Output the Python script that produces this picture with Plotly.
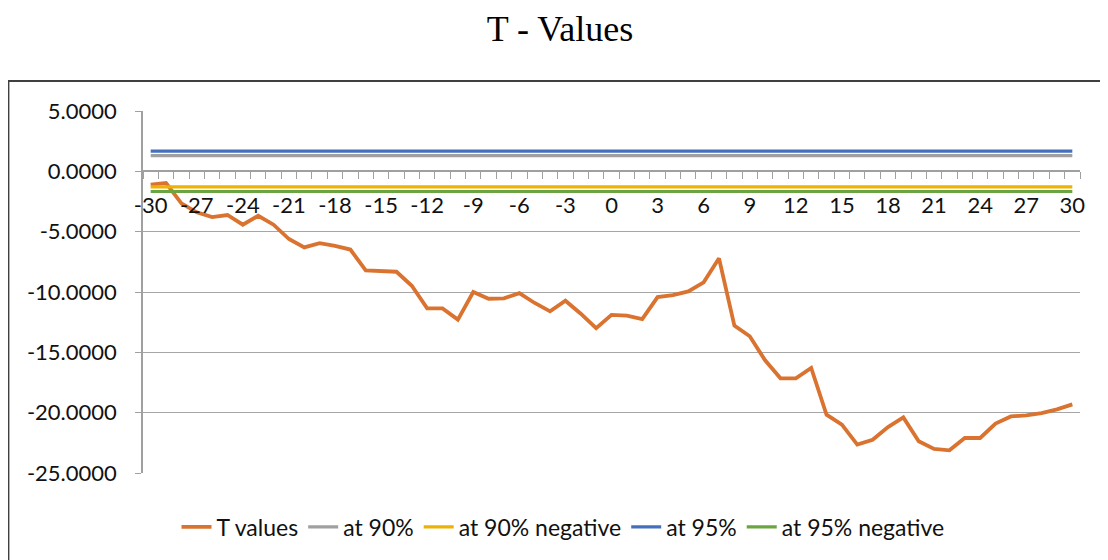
import plotly.graph_objects as go

lags = list(range(-30, 31))
t_values = [-1.11, -0.97, -2.65, -3.40, -3.79, -3.62, -4.42, -3.68, -4.42, -5.61,
            -6.30, -5.95, -6.18, -6.48, -8.21, -8.26, -8.32, -9.48, -11.36, -11.36,
            -12.29, -10.00, -10.56, -10.53, -10.09, -10.91, -11.60, -10.72, -11.80, -12.99,
            -11.90, -11.96, -12.24, -10.42, -10.25, -9.95, -9.20, -7.21, -12.79, -13.67,
            -15.66, -17.15, -17.15, -16.30, -20.17, -20.99, -22.65, -22.24, -21.19, -20.39,
            -22.37, -23.01, -23.12, -22.10, -22.10, -20.91, -20.31, -20.22, -20.03, -19.73,
            -19.31]
at_90 = 1.296
at_90_neg = -1.296
at_95 = 1.671
at_95_neg = -1.671
x_tick_vals = list(range(-30, 31, 3))
x_tick_text = [str(v) for v in x_tick_vals]
y_tick_vals = [-25, -20, -15, -10, -5, 0, 5]
y_tick_text = ["%.4f" % v for v in y_tick_vals]

series = [
    ("T values", t_values, "#D9732F", 3.8),
    ("at 90%", [at_90] * len(lags), "#A0A0A0", 3.2),
    ("at 90% negative", [at_90_neg] * len(lags), "#EDB204", 3.2),
    ("at 95%", [at_95] * len(lags), "#4570BE", 3.2),
    ("at 95% negative", [at_95_neg] * len(lags), "#6AA443", 3.2),
]

fig = go.Figure()
for name, ys, color, w in series:
    fig.add_trace(go.Scatter(x=lags, y=ys, mode="lines", name=name,
                             line=dict(color=color, width=w)))

font_family = "Lato"
W, H = 1108, 560
ML, MR, MT, MB = 135, 36, 103, 95
PW, PH = W - ML - MR, H - MT - MB


def px_x(p):
    return (p - ML) / PW


def px_y(p):
    return (H - MB - p) / PH


fig.update_layout(
    width=W, height=H,
    margin=dict(l=ML, r=MR, t=MT, b=MB),
    paper_bgcolor="white", plot_bgcolor="white",
    title=dict(text="T - Values", x=552 / W, xref="container", xanchor="center",
               y=1 - 20 / H, yanchor="middle",
               font=dict(family="Liberation Serif", size=36, color="#000000")),
    font=dict(family=font_family, size=22, color="#111111"),
    showlegend=True,
    legend=dict(orientation="h", x=px_x(555), xanchor="center", y=px_y(519), yanchor="middle",
                font=dict(family=font_family, size=23, color="#111111"),
                bgcolor="rgba(0,0,0,0)"),
    xaxis=dict(range=[-30.5, 30.5], tickmode="array", tickvals=x_tick_vals,
               ticktext=x_tick_text,
               ticks="", showgrid=False, zeroline=False,
               showline=True, linecolor="#A0A0A0", linewidth=1.5,
               anchor="free", position=25 / 30,
               ticklabelstandoff=15,
               minor=dict(tickmode="linear", tick0=-30.5, dtick=1, ticks="outside",
                          ticklen=7, tickcolor="#A0A0A0", tickwidth=1.2, showgrid=False),
               tickfont=dict(family=font_family, size=22, color="#111111")),
    yaxis=dict(range=[-25, 5], tickmode="array", tickvals=y_tick_vals,
               ticktext=y_tick_text,
               ticks="outside", ticklen=6, tickcolor="#A0A0A0",
               showgrid=True, gridcolor="#A6A6A6", gridwidth=1.3, zeroline=False,
               showline=True, linecolor="#A0A0A0", linewidth=1.5,
               ticklabelstandoff=14,
               tickfont=dict(family=font_family, size=22, color="#111111")),
    shapes=[dict(type="rect", xref="paper", yref="paper",
                 x0=px_x(0.5), x1=px_x(W + 10),
                 y0=px_y(H + 10), y1=px_y(73),
                 line=dict(color="#404040", width=1.8), fillcolor="rgba(0,0,0,0)",
                 layer="above")],
)

fig.write_html("out.html")
